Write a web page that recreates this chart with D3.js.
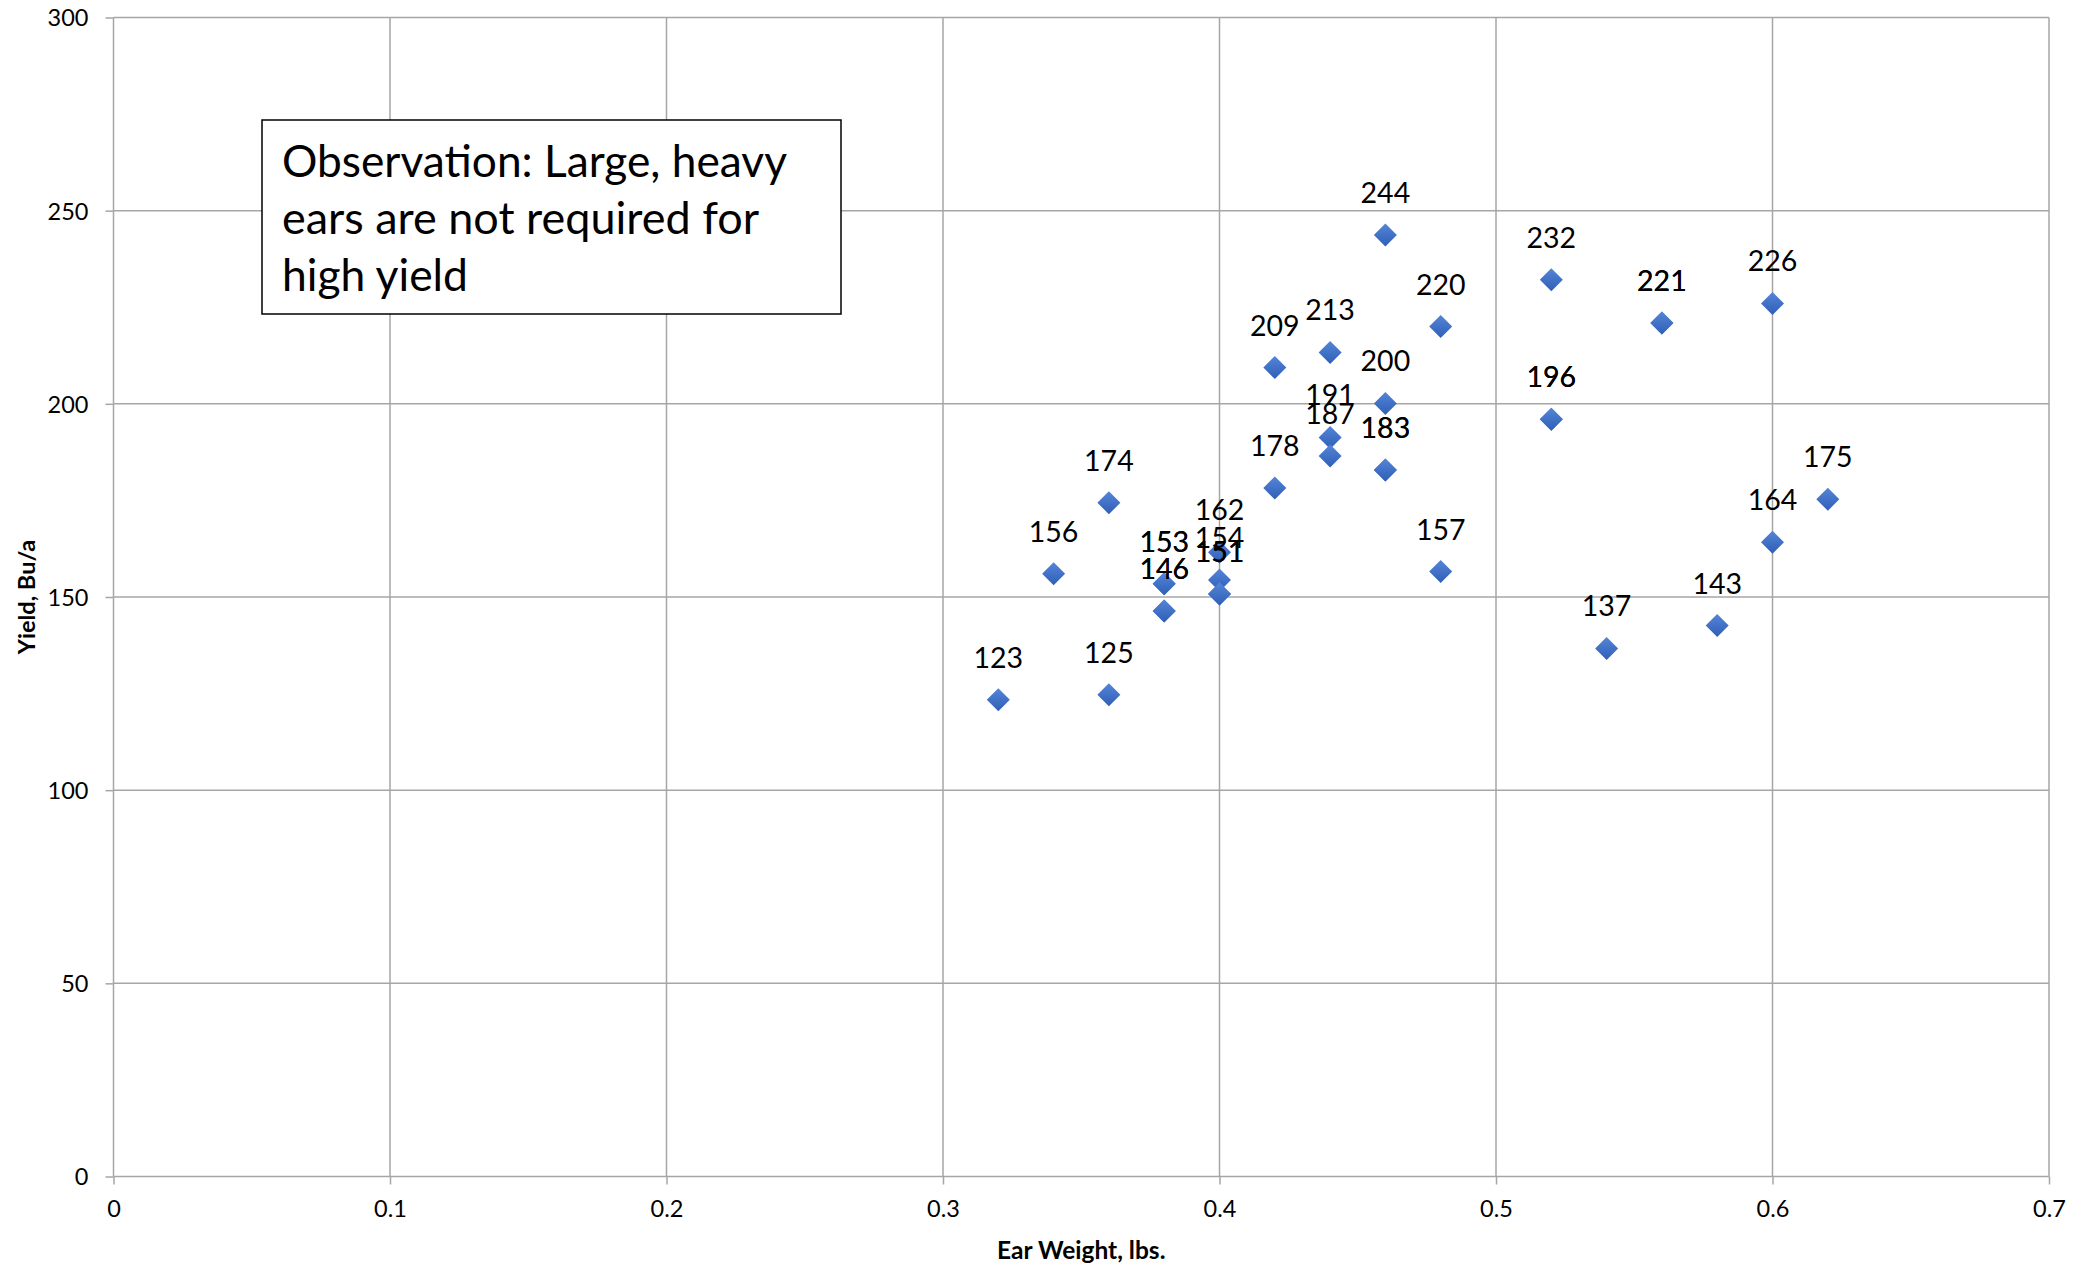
<!DOCTYPE html>
<html>
<head>
<meta charset="utf-8">
<script src="https://cdn.jsdelivr.net/npm/d3@7"></script>
<style>
  body { margin: 0; background: #fff; }
  svg { display: block; font-family: Lato, "Open Sans", sans-serif; }
</style>
</head>
<body>
<div id="chart"></div>
<script>
// ear weight (lbs) and yield (bu/a)
const earWeight = [0.32, 0.34, 0.36, 0.36, 0.38, 0.38, 0.38, 0.38, 0.40, 0.40, 0.40, 0.40,
                   0.42, 0.42, 0.44, 0.44, 0.44, 0.46, 0.46, 0.46, 0.46, 0.48, 0.48,
                   0.52, 0.52, 0.52, 0.54, 0.56, 0.56, 0.58, 0.60, 0.60, 0.62];
const yieldBu   = [123.4, 156.0, 174.4, 124.7, 153.4, 153.4, 146.4, 146.4, 161.6, 154.4, 150.8, 150.8,
                   178.2, 209.4, 213.3, 191.3, 186.5, 243.7, 200.1, 182.9, 182.9, 220.0, 156.6,
                   232.1, 196.0, 196.0, 136.7, 220.9, 220.9, 142.6, 226.0, 164.2, 175.3];
const xTicks = [0, 0.1, 0.2, 0.3, 0.4, 0.5, 0.6, 0.7];
const yTicks = [0, 50, 100, 150, 200, 250, 300];
const noteLines = ["Observation: Large, heavy", "ears are not required for", "high yield"];

const width = 2087, height = 1267;
const margin = {top: 17.5, right: 38, bottom: 90.5, left: 113.5};

const points = earWeight.map((w, i) => ({w: w, y: yieldBu[i]}));

const svg = d3.select("#chart").append("svg")
    .attr("width", width)
    .attr("height", height);

const x = d3.scaleLinear().domain([0, 0.7]).range([margin.left, width - margin.right]);
const y = d3.scaleLinear().domain([0, 300]).range([height - margin.bottom, margin.top]);

// gradient for the diamond markers
const grad = svg.append("defs").append("linearGradient")
    .attr("id", "mk").attr("x1", 0).attr("y1", 0).attr("x2", 0).attr("y2", 1);
grad.append("stop").attr("offset", "0%").attr("stop-color", "#5585d8");
grad.append("stop").attr("offset", "100%").attr("stop-color", "#2f5fb6");

// grid + axes
const xAxis = svg.append("g")
    .attr("transform", `translate(0,${y(0)})`)
    .call(d3.axisBottom(x).tickValues(xTicks).tickSize(8).tickFormat(d3.format("")));
const yAxis = svg.append("g")
    .attr("transform", `translate(${x(0)},0)`)
    .call(d3.axisLeft(y).tickValues(yTicks).tickSize(8));

svg.append("g").selectAll("line.vg")
    .data(xTicks).enter().append("line")
    .attr("x1", d => x(d)).attr("x2", d => x(d))
    .attr("y1", y(0)).attr("y2", y(300))
    .style("stroke", "#a6a6a6").style("stroke-width", 1.5);
svg.append("g").selectAll("line.hg")
    .data(yTicks).enter().append("line")
    .attr("x1", x(0)).attr("x2", x(0.7))
    .attr("y1", d => y(d)).attr("y2", d => y(d))
    .style("stroke", "#a6a6a6").style("stroke-width", 1.5);

[xAxis, yAxis].forEach(a => {
    a.select(".domain").remove();
    a.selectAll(".tick line").style("stroke", "#a6a6a6").style("stroke-width", 1.5);
    a.selectAll(".tick text").style("font-size", "23.5px").style("fill", "#000")
        .style("font-family", "Lato, sans-serif");
});
xAxis.selectAll(".tick text").attr("y", 24).attr("dy", "0.71em");
yAxis.selectAll(".tick text").attr("x", -25).attr("dy", "0.36em");

// axis titles
svg.append("text")
    .attr("x", (x(0) + x(0.7)) / 2)
    .attr("y", 1259)
    .attr("text-anchor", "middle")
    .style("font-size", "24.5px").style("font-weight", "bold")
    .text("Ear Weight, lbs.");
svg.append("text")
    .attr("transform", `translate(35,${(y(0) + y(300)) / 2}) rotate(-90)`)
    .attr("text-anchor", "middle")
    .style("font-size", "23.5px").style("font-weight", "bold")
    .text("Yield, Bu/a");

// markers
svg.append("g").selectAll("path")
    .data(points).enter().append("path")
    .attr("d", "M0,-11.5L11.5,0L0,11.5L-11.5,0Z")
    .attr("transform", d => `translate(${x(d.w)},${y(d.y)})`)
    .style("fill", "url(#mk)");

// data labels
svg.append("g").selectAll("text")
    .data(points).enter().append("text")
    .attr("x", d => x(d.w))
    .attr("y", d => y(d.y) - 32)
    .attr("text-anchor", "middle")
    .style("font-size", "28.5px")
    .text(d => Math.round(d.y));

// note box
const note = svg.append("g");
note.append("rect")
    .attr("x", 262).attr("y", 120)
    .attr("width", 579).attr("height", 194)
    .style("fill", "#fff").style("stroke", "#000").style("stroke-width", 1.5);
const noteWidths = [505, 477, 186];
note.selectAll("text")
    .data(noteLines).enter().append("text")
    .attr("x", 282)
    .attr("y", (d, i) => 177 + i * 57)
    .attr("textLength", (d, i) => noteWidths[i])
    .attr("lengthAdjust", "spacingAndGlyphs")
    .style("font-size", "45px")
    .text(d => d);
</script>
</body>
</html>
